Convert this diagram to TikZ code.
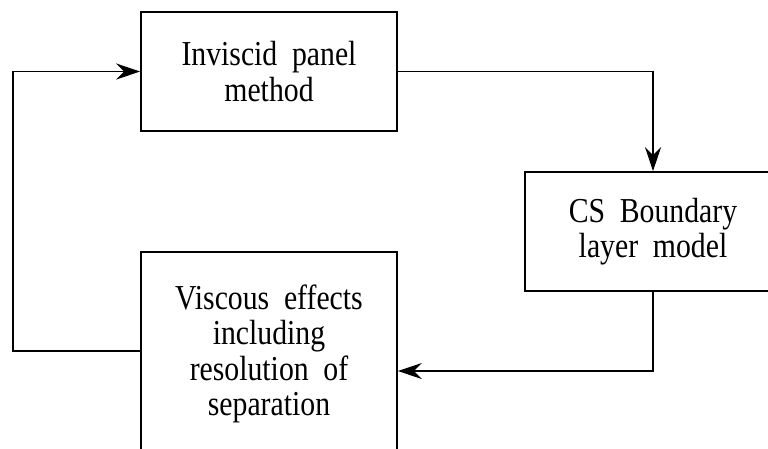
\documentclass[tikz,border=0pt]{standalone}
\usepackage{fontspec}
\setmainfont{Liberation Serif}[FakeStretch=0.85]
\usetikzlibrary{arrows.meta}
\newcommand{\blkfont}{\fontsize{35}{35.5}\selectfont\spaceskip=0.42em\relax}
\tikzset{
  blk/.style={draw, line width=1.6pt, minimum width=256pt, inner sep=0pt, align=center,
    font=\blkfont},
  arr/.style={line width=1.6pt, -{Stealth[length=24pt, width=16pt, inset=8pt]}}
}
\begin{document}
\begin{tikzpicture}[x=1pt, y=1pt]
\useasboundingbox (0,0) rectangle (768,-448);
\clip (0,0) rectangle (768,-448);
\node[blk, minimum height=119pt] (a) at (269,-71.5) {Inviscid panel\\method};
\node[blk, minimum height=119pt] (b) at (653,-231.5) {CS Boundary\\layer model};
\node[blk, minimum height=204pt] (c) at (269,-354) {Viscous effects\\including\\resolution of\\separation};
\coordinate (l1) at (13,-351);
\coordinate (l2) at (13,-71.5);
\coordinate (r1) at (653,-371);
\draw[arr] (c.west |- l1) -- (l1) -- (l2) -- (a.west);
\draw[arr] (a.east) -| (b.north);
\draw[arr] (b.south) -- (r1) -- (r1 -| c.east);
\end{tikzpicture}
\end{document}
